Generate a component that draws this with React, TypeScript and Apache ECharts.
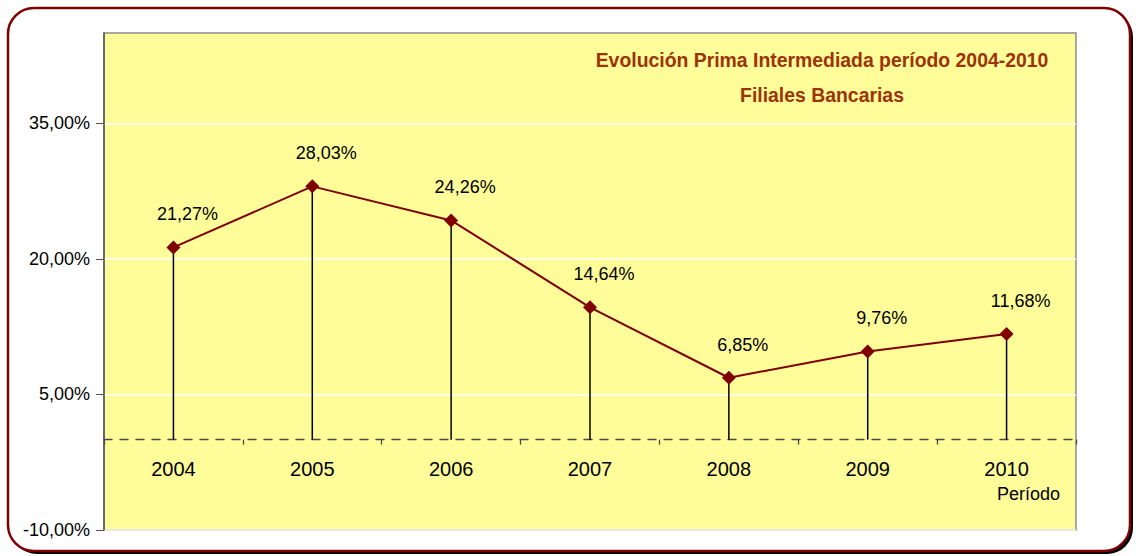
import React, { useEffect, useRef } from "react";
import * as echarts from "echarts";

const categories = ["2004", "2005", "2006", "2007", "2008", "2009", "2010"];
const values = [21.27, 28.03, 24.26, 14.64, 6.85, 9.76, 11.68];
const yTicks = [-10, 5, 20, 35];

const fmt = (v: number) => v.toFixed(2).replace(".", ",") + "%";

export default function App() {
  const ref = useRef<HTMLDivElement>(null);
  useEffect(() => {
    if (!ref.current) return;
    const chart = echarts.init(ref.current, null, { renderer: "svg" });
    const font = "'Liberation Sans', Arial, sans-serif";
    chart.setOption({
      animation: false,
      backgroundColor: "#ffffff",
      textStyle: { fontFamily: font },
      graphic: [
        {
          type: "rect",
          z: -20,
          shape: { x: 11, y: 11, width: 1122, height: 543, r: 26 },
          style: { fill: "#000000" },
        },
        {
          type: "rect",
          z: -19,
          shape: { x: 8, y: 8, width: 1122, height: 543, r: 26 },
          style: { fill: "#ffffff", stroke: "#800000", lineWidth: 2.5 },
        },
        {
          type: "text",
          left: 997,
          top: 485,
          z: 10,
          style: {
            text: "Período",
            fontSize: 18,
            fontFamily: font,
            fill: "#000000",
          },
        },
      ],
      title: {
        text: "Evolución Prima Intermediada período 2004-2010\nFiliales Bancarias",
        left: 817,
        top: 37,
        textAlign: "center",
        textStyle: {
          fontFamily: font,
          fontSize: 19.4,
          fontWeight: "bold",
          color: "#9C3309",
          lineHeight: 35,
        },
      },
      grid: {
        left: 104,
        top: 33,
        right: 60,
        bottom: 26,
        outerBoundsMode: "none",
        containLabel: false,
        show: true,
        backgroundColor: "#FFFD99",
        borderColor: "#8a8a8a",
        borderWidth: 1.5,
      },
      xAxis: {
        type: "category",
        data: categories,
        axisLine: {
          onZero: true,
          lineStyle: { color: "#4a4a4a", type: [8, 8], width: 1.3 },
        },
        axisTick: { show: true, length: 5, lineStyle: { color: "#4a4a4a", width: 1.3 } },
        axisLabel: { color: "#000000", fontSize: 20, margin: -71, fontFamily: font },
        splitLine: { show: false },
      },
      yAxis: {
        type: "value",
        min: -10,
        max: 45,
        axisLine: { show: true, lineStyle: { color: "#555555", width: 1.5 } },
        axisTick: {
          show: true,
          length: 8,
          customValues: yTicks,
          lineStyle: { color: "#555555" },
        },
        axisLabel: {
          customValues: yTicks,
          formatter: (v: number) => fmt(v),
          color: "#000000",
          fontSize: 18,
          margin: 14,
          fontFamily: font,
        },
        splitLine: { show: true, lineStyle: { color: "#ffffff", width: 1.5 } },
      },
      series: [
        {
          type: "bar",
          data: values,
          barWidth: 1.5,
          itemStyle: { color: "#000000" },
          z: 1,
        },
        {
          type: "line",
          data: values,
          symbol: "diamond",
          symbolSize: 14,
          lineStyle: { color: "#800000", width: 2 },
          itemStyle: { color: "#800000" },
          z: 3,
          label: {
            show: true,
            position: "top",
            distance: 17,
            offset: [14, 0],
            formatter: (p: any) => fmt(p.value),
            color: "#000000",
            fontSize: 18,
            fontFamily: font,
          },
        },
      ],
    });
    return () => chart.dispose();
  }, []);
  return (
    <div
      ref={ref}
      style={{ position: "fixed", left: 0, top: 0, width: 1136, height: 556 }}
    />
  );
}
